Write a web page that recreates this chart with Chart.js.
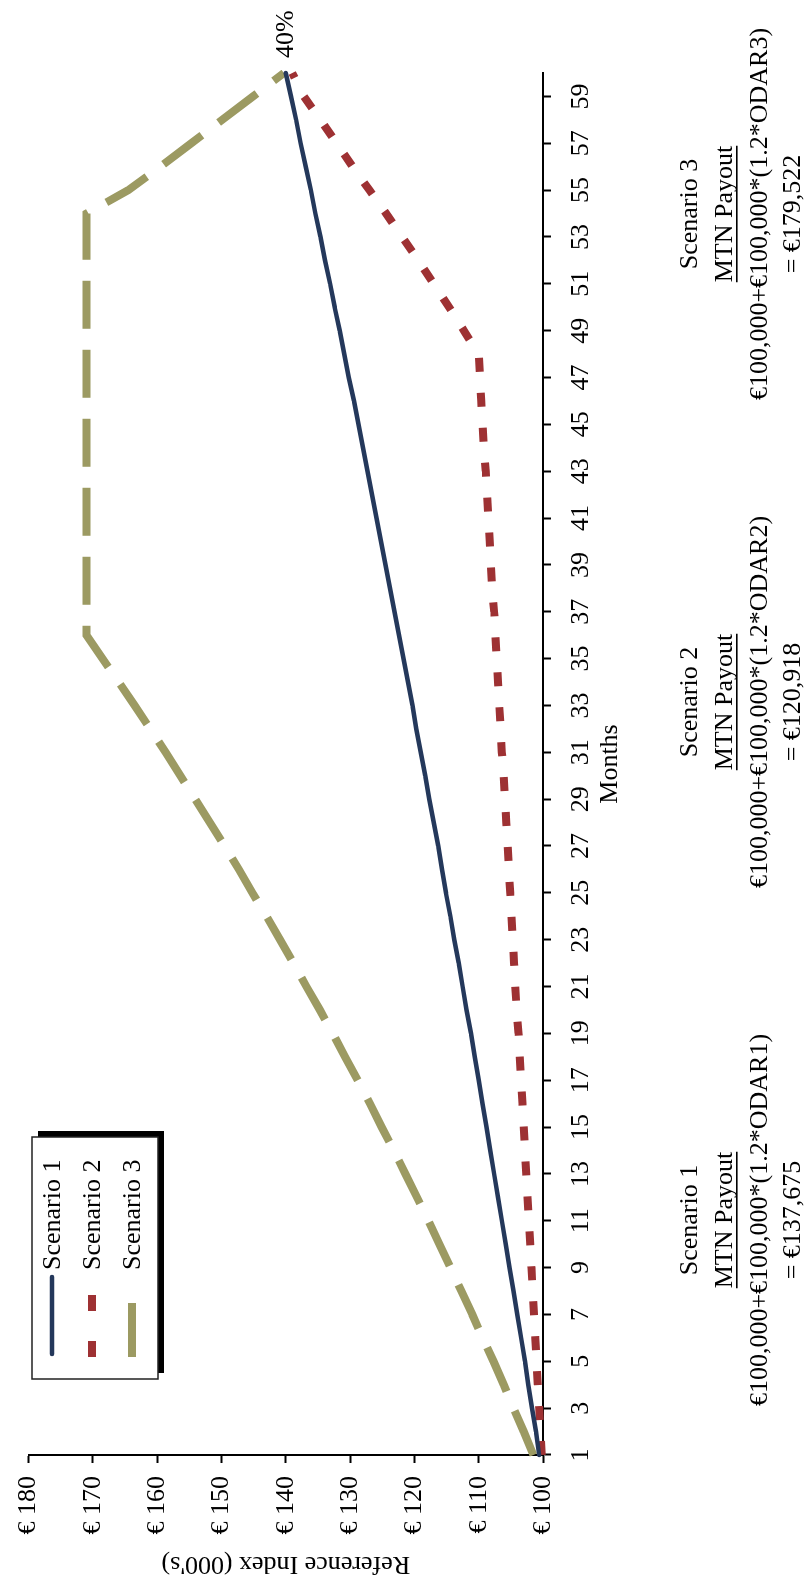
<!DOCTYPE html>
<html>
<head>
<meta charset="utf-8">
<script src="https://cdn.jsdelivr.net/npm/chart.js@4.4.0/dist/chart.umd.min.js"></script>
<style>
  html, body { margin: 0; padding: 0; background: #fff; overflow: hidden; }
  /* the chart is laid out landscape and turned a quarter turn counter-clockwise */
  #wrap {
    position: absolute; left: 0; top: 0;
    width: 1579px; height: 808px;
    transform-origin: 0 0;
    transform: translateY(1579px) rotate(-90deg);
  }
  canvas { display: block; }
</style>
</head>
<body>
<div id="wrap"><canvas id="chart" width="1579" height="808"></canvas></div>
<script>
// Months on the horizontal axis
const months = [1,2,3,4,5,6,7,8,9,10,11,12,13,14,15,16,17,18,19,20,
                21,22,23,24,25,26,27,28,29,30,31,32,33,34,35,36,37,38,39,40,
                41,42,43,44,45,46,47,48,49,50,51,52,53,54,55,56,57,58,59,60];

// Reference index level per month (thousands of euro)
const scenario1 = [100.6,101.1,101.7,102.3,102.8,103.4,104.0,104.6,105.2,105.8,
                   106.4,107.0,107.6,108.2,108.8,109.4,110.0,110.6,111.2,111.9,
                   112.5,113.1,113.8,114.4,115.1,115.7,116.3,117.0,117.7,118.3,
                   119.0,119.7,120.3,121.0,121.7,122.4,123.1,123.8,124.5,125.2,
                   125.9,126.6,127.3,128.0,128.7,129.4,130.2,130.9,131.6,132.4,
                   133.1,133.9,134.6,135.4,136.1,136.9,137.7,138.4,139.2,140.0];

const scenario2 = [100.2,100.4,100.6,100.8,101.0,101.2,101.4,101.6,101.8,102.0,
                   102.2,102.4,102.6,102.8,103.0,103.2,103.4,103.6,103.8,104.1,
                   104.3,104.5,104.7,104.9,105.1,105.3,105.5,105.7,105.9,106.1,
                   106.4,106.6,106.8,107.0,107.2,107.4,107.6,107.9,108.1,108.3,
                   108.5,108.7,108.9,109.2,109.4,109.6,109.8,110.0,112.3,114.6,
                   117.0,119.4,121.9,124.4,127.0,129.6,132.1,134.6,137.2,139.0];

const scenario3 = [101.5,103.0,104.6,106.1,107.7,109.4,111.0,112.7,114.4,116.1,
                   117.8,119.6,121.4,123.2,125.1,126.9,128.8,130.8,132.7,134.7,
                   136.8,138.8,140.9,143.0,145.2,147.3,149.5,151.8,154.1,156.4,
                   158.7,161.1,163.5,166.0,168.5,171.0,171.0,171.0,171.0,171.0,
                   171.0,171.0,171.0,171.0,171.0,171.0,171.0,171.0,171.0,171.0,
                   171.0,171.0,171.0,171.0,164.5,159.5,154.7,149.9,145.1,140.3];

const seriesNames = ['Scenario 1', 'Scenario 2', 'Scenario 3'];
const valueMin = 100, valueMax = 180, valueStep = 10;
const endLabel = '40%';

const payoutNotes = [
  ['Scenario 1', 'MTN Payout', '€100,000+€100,000*(1.2*ODAR1)', '= €137,675'],
  ['Scenario 2', 'MTN Payout', '€100,000+€100,000*(1.2*ODAR2)', '= €120,918'],
  ['Scenario 3', 'MTN Payout', '€100,000+€100,000*(1.2*ODAR3)', '= €179,522']
];

const SERIF = "'Liberation Serif', 'Times New Roman', serif";
const NAVY = '#24385b', RED = '#9e3133', OLIVE = '#9c9a62';

// legend sample dash patterns, per series
const legendDash = [[], [16, 30], [54, 26]];

// text blocks under the axis, the framed legend and the end-point label
const annotations = {
  id: 'annotations',
  afterDraw(chart) {
    const ctx = chart.ctx;
    ctx.save();
    ctx.fillStyle = '#000';
    ctx.font = '26px ' + SERIF;

    // label at the end of the first series
    const meta = chart.getDatasetMeta(0);
    const last = meta.data[meta.data.length - 1];
    ctx.textAlign = 'left';
    ctx.textBaseline = 'middle';
    ctx.fillText(endLabel, last.x + 15, last.y);

    // payout notes
    const noteX = [359, 877, 1365];
    const lineY = [690, 725, 760, 793];
    ctx.textAlign = 'center';
    payoutNotes.forEach((lines, i) => {
      lines.forEach((t, j) => {
        ctx.fillText(t, noteX[i], lineY[j]);
        if (j === 1) {
          const w = ctx.measureText(t).width;
          ctx.fillRect(noteX[i] - w / 2, lineY[j] + 11, w, 1.6);
        }
      });
    });

    // legend box with drop shadow
    const bx = 200, by = 32, bw = 242, bh = 126;
    ctx.fillStyle = '#000';
    ctx.fillRect(bx + 6, by + 6, bw, bh);
    ctx.fillStyle = '#fff';
    ctx.fillRect(bx, by, bw, bh);
    ctx.strokeStyle = '#222';
    ctx.lineWidth = 1.5;
    ctx.strokeRect(bx, by, bw, bh);

    chart.data.datasets.forEach((ds, i) => {
      const y = by + 20 + i * 40;
      ctx.save();
      ctx.strokeStyle = ds.borderColor;
      ctx.lineWidth = ds.borderWidth;
      ctx.lineCap = i === 0 ? 'round' : 'butt';
      ctx.setLineDash(legendDash[i]);
      ctx.beginPath();
      ctx.moveTo(i === 0 ? 225 : 222, y);
      ctx.lineTo(302, y);
      ctx.stroke();
      ctx.restore();
      ctx.fillStyle = '#000';
      ctx.textAlign = 'left';
      ctx.textBaseline = 'middle';
      ctx.fillText(ds.label, 309, y + 1);
    });
    ctx.restore();
  }
};

new Chart(document.getElementById('chart'), {
  type: 'line',
  data: {
    labels: months,
    datasets: [
      { label: seriesNames[0], data: scenario1, borderColor: NAVY, borderWidth: 4.5,
        borderCapStyle: 'round', pointRadius: 0, tension: 0, fill: false, clip: false },
      { label: seriesNames[1], data: scenario2, borderColor: RED, borderWidth: 8,
        borderDash: [14, 21], borderCapStyle: 'butt', pointRadius: 0, tension: 0, fill: false, clip: false },
      { label: seriesNames[2], data: scenario3, borderColor: OLIVE, borderWidth: 8,
        borderDash: [48, 21], borderCapStyle: 'butt', pointRadius: 0, tension: 0, fill: false, clip: false }
    ]
  },
  options: {
    responsive: false,
    animation: false,
    devicePixelRatio: 1,
    layout: { padding: { left: 0, right: 73, top: 23, bottom: 0 } },
    plugins: { legend: { display: false }, tooltip: { enabled: false } },
    scales: {
      x: {
        type: 'category',
        offset: false,
        grid: { display: true, drawOnChartArea: false, drawTicks: true, tickLength: 8, tickWidth: 2, tickColor: '#000' },
        border: { display: true, color: '#000', width: 2 },
        ticks: {
          autoSkip: false, maxRotation: 0, minRotation: 0, padding: 15, color: '#000',
          font: { family: SERIF, size: 26 },
          callback: (v, i) => (i % 2 === 0 ? String(months[i]) : null)
        },
        title: { display: true, text: 'Months', color: '#000', font: { family: SERIF, size: 26 },
                 padding: { top: 0, bottom: 182 } },
        afterFit: (s) => { s.height = 265; }
      },
      y: {
        min: valueMin, max: valueMax,
        grid: { display: true, drawOnChartArea: false, drawTicks: true, tickLength: 8, tickWidth: 2, tickColor: '#000' },
        border: { display: true, color: '#000', width: 2 },
        ticks: { stepSize: valueStep, padding: 13, color: '#000', font: { family: SERIF, size: 26 },
                 callback: (v) => '€ ' + v },
        title: { display: true, text: "Reference Index (000's)", color: '#000', font: { family: SERIF, size: 26 },
                 padding: { top: 0, bottom: 0 } },
        afterFit: (s) => { s.width = 124; }
      }
    }
  },
  plugins: [annotations]
});
</script>
</body>
</html>
